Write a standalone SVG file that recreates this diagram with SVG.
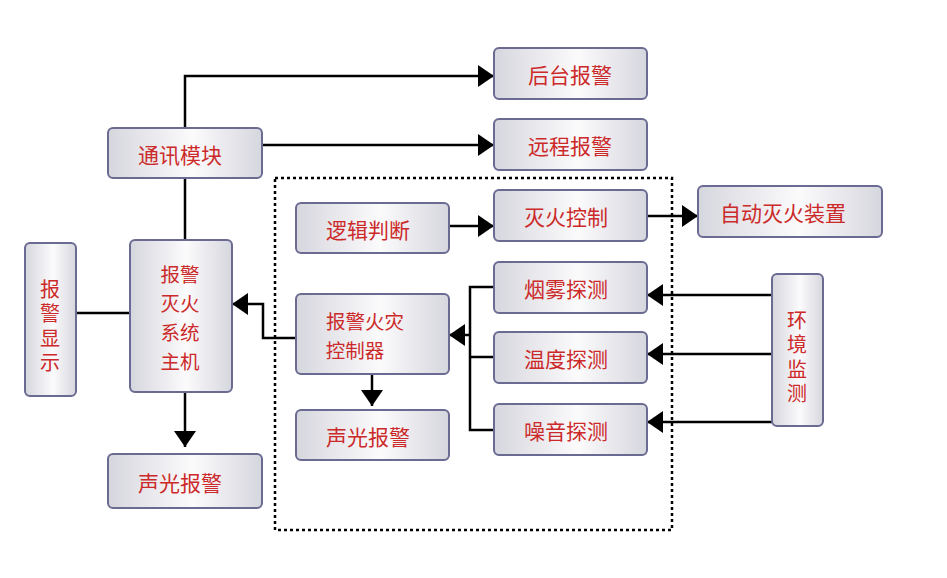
<svg xmlns="http://www.w3.org/2000/svg" width="947" height="578" viewBox="0 0 947 578">
<defs>
<linearGradient id="g" x1="0" y1="0" x2="1" y2="0">
<stop offset="0" stop-color="#d6d6de"/>
<stop offset="0.55" stop-color="#fbfbfc"/>
<stop offset="1" stop-color="#d6d6de"/>
</linearGradient>
<marker id="ah" markerUnits="userSpaceOnUse" markerWidth="18" markerHeight="24" refX="16" refY="12" orient="auto">
<path d="M0,1 L16,12 L0,23 Z" fill="#000"/>
</marker>
</defs>
<style>
.box{fill:url(#g);stroke:#6a6a92;stroke-width:2}
.t{font-family:"Noto Sans CJK SC","Noto Sans",sans-serif;font-size:21px;fill:#cc2a2a;text-anchor:middle;dominant-baseline:central}
.m{font-size:19.5px}
.v{font-family:"Noto Sans CJK SC","Noto Sans",sans-serif;font-size:20px;fill:#cc2a2a;text-anchor:middle;writing-mode:vertical-rl;letter-spacing:4.5px}
.c{fill:none;stroke:#000;stroke-width:2.5}
.a{marker-end:url(#ah)}
</style>
<rect width="947" height="578" fill="#fff"/>
<rect x="275" y="178" width="397" height="352" fill="none" stroke="#000" stroke-width="2.5" stroke-dasharray="3 3"/>
<g id="connectors">
<path class="c a" d="M185,128 V76 H494"/>
<path class="c a" d="M262,145 H494"/>
<path class="c" d="M185,178 V240"/>
<path class="c" d="M76,313 H130"/>
<path class="c a" d="M185,392 V447"/>
<path class="c a" d="M296,338 H263 V304 H232"/>
<path class="c a" d="M449,226 H494"/>
<path class="c a" d="M647,216 H698"/>
<path class="c" d="M494,287 H470 V430 H494 M470,357 H494"/>
<path class="c a" d="M470,335 H449"/>
<path class="c a" d="M372,374 V406"/>
<path class="c a" d="M772,295 H647"/>
<path class="c a" d="M772,354 H647"/>
<path class="c a" d="M772,422 H647"/>
</g>
<g id="n1"><rect class="box" x="494" y="48" width="153" height="51" rx="5"/><text class="t" x="570" y="74">后台报警</text></g>
<g id="n2"><rect class="box" x="494" y="119" width="153" height="51" rx="5"/><text class="t" x="570" y="145">远程报警</text></g>
<g id="n3"><rect class="box" x="108" y="128" width="154" height="50" rx="5"/><text class="t" x="180" y="154">通讯模块</text></g>
<g id="n4"><rect class="box" x="296" y="203" width="153" height="50" rx="5"/><text class="t" x="368" y="229">逻辑判断</text></g>
<g id="n5"><rect class="box" x="494" y="190" width="153" height="51" rx="5"/><text class="t" x="566" y="216">灭火控制</text></g>
<g id="n6"><rect class="box" x="698" y="186" width="184" height="51" rx="5"/><text class="t" x="783" y="212">自动灭火装置</text></g>
<g id="n7"><rect class="box" x="494" y="262" width="153" height="51" rx="5"/><text class="t" x="566" y="288">烟雾探测</text></g>
<g id="n8"><rect class="box" x="494" y="332" width="153" height="51" rx="5"/><text class="t" x="566" y="358">温度探测</text></g>
<g id="n9"><rect class="box" x="494" y="404" width="153" height="51" rx="5"/><text class="t" x="566" y="430">噪音探测</text></g>
<g id="n10"><rect class="box" x="296" y="294" width="153" height="80" rx="5"/><text class="t m" x="365" y="320">报警火灾</text><text class="t m" x="355" y="349">控制器</text></g>
<g id="n11"><rect class="box" x="296" y="410" width="153" height="50" rx="5"/><text class="t" x="368" y="436">声光报警</text></g>
<g id="n12"><rect class="box" x="772" y="274" width="51" height="152" rx="5"/><text class="v" x="797" y="359">环境监测</text></g>
<g id="n13"><rect class="box" x="25" y="243" width="51" height="153" rx="5"/><text class="v" x="50" y="328">报警显示</text></g>
<g id="n14"><rect class="box" x="130" y="240" width="102" height="152" rx="5"/><text class="t m" x="180" y="273">报警</text><text class="t m" x="180" y="302">灭火</text><text class="t m" x="180" y="331">系统</text><text class="t m" x="180" y="360">主机</text></g>
<g id="n15"><rect class="box" x="108" y="454" width="154" height="54" rx="5"/><text class="t" x="180" y="482">声光报警</text></g>
</svg>
